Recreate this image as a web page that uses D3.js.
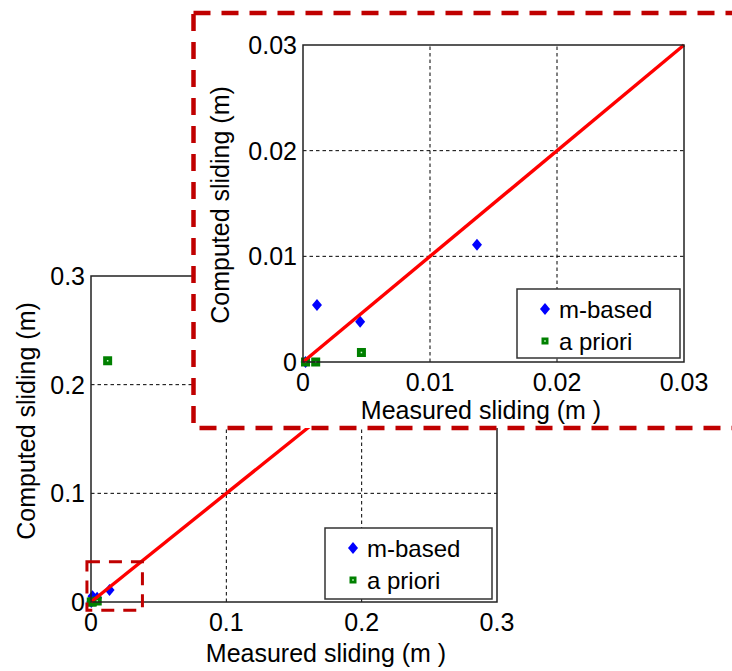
<!DOCTYPE html>
<html>
<head>
<meta charset="utf-8">
<script src="https://cdn.jsdelivr.net/npm/d3@7"></script>
<style>
  body { margin: 0; background: #fff; }
  svg text { font-family: "Liberation Sans", Arial, sans-serif; fill: #000; }
</style>
</head>
<body>
<div id="chart"></div>
<script>
// data (metres)
const mBasedX = [0.0002, 0.0011, 0.0045, 0.0137];
const mBasedY = [0.0000, 0.0054, 0.0038, 0.0111];
const aPrioriX = [0.0002, 0.0010, 0.0046, 0.0123];
const aPrioriY = [0.0000, 0.0000, 0.0009, 0.2220];

const mainTicks = [0, 0.1, 0.2, 0.3];
const mainTickLabels = ["0", "0.1", "0.2", "0.3"];
const insetTicks = [0, 0.01, 0.02, 0.03];
const insetTickLabels = ["0", "0.01", "0.02", "0.03"];

// zoom window marked on the main plot
const zoomBoxX = [-0.003, 0.038];
const zoomBoxY = [-0.0075, 0.037];

const legendNames = ["m-based", "a priori"];
const xTitle = "Measured sliding (m )";
const yTitle = "Computed sliding (m)";

const width = 732, height = 671;
const darkRed = "#c00000";

let svg = d3.select("#chart").append("svg")
    .attr("width", width)
    .attr("height", height);

let mBased = mBasedX.map((x, i) => ({x: x, y: mBasedY[i]}));
let aPriori = aPrioriX.map((x, i) => ({x: x, y: aPrioriY[i]}));

function diamond(g, data, x, y) {
    g.selectAll("path.dia")
        .data(data)
        .enter()
        .append("path")
        .attr("class", "dia")
        .attr("d", d => {
            let cx = x(d.x), cy = y(d.y);
            return `M${cx},${cy - 6}L${cx + 5},${cy}L${cx},${cy + 6}L${cx - 5},${cy}Z`;
        })
        .attr("fill", "#0000ff");
}

function square(g, data, x, y) {
    let s = g.selectAll("g.sq")
        .data(data)
        .enter()
        .append("g")
        .attr("class", "sq")
        .attr("transform", d => `translate(${x(d.x)},${y(d.y)})`);
    s.append("rect").attr("x", -4.5).attr("y", -4.5).attr("width", 9).attr("height", 9).attr("fill", "#008000");
    s.append("rect").attr("x", -0.75).attr("y", -0.75).attr("width", 1.5).attr("height", 1.5).attr("fill", "#cfc");
}

// draws one axes: grid, markers, 1:1 line, box, ticks, labels, legend
function drawPanel(g, opt) {
    let x = opt.x, y = opt.y;
    let [x0, x1] = x.range();
    let [y0, y1] = y.range();
    let ticks = opt.ticks;

    // dotted grid
    g.selectAll("line.gx")
        .data(ticks.slice(1, -1))
        .enter().append("line")
        .attr("x1", d => x(d)).attr("x2", d => x(d))
        .attr("y1", y0).attr("y2", y1)
        .attr("stroke", "#000").attr("stroke-width", 1)
        .attr("stroke-dasharray", "3.5,3");
    g.selectAll("line.gy")
        .data(ticks.slice(1, -1))
        .enter().append("line")
        .attr("y1", d => y(d)).attr("y2", d => y(d))
        .attr("x1", x0).attr("x2", x1)
        .attr("stroke", "#000").attr("stroke-width", 1)
        .attr("stroke-dasharray", "3.5,3");

    diamond(g, mBased, x, y);
    square(g, aPriori, x, y);

    // 1:1 line
    let dom = x.domain();
    g.append("line")
        .attr("x1", x(dom[0])).attr("y1", y(dom[0]))
        .attr("x2", x(dom[1])).attr("y2", y(dom[1]))
        .attr("stroke", "#ff0000").attr("stroke-width", 3.4);

    // box
    g.append("rect")
        .attr("x", x0).attr("y", y1)
        .attr("width", x1 - x0).attr("height", y0 - y1)
        .attr("fill", "none").attr("stroke", "#222").attr("stroke-width", 1.5);

    // tick labels
    g.selectAll("text.xt")
        .data(ticks)
        .enter().append("text")
        .attr("x", d => x(d))
        .attr("y", y0 + opt.xTickGap)
        .attr("text-anchor", "middle")
        .style("font-size", "25px")
        .text((d, i) => opt.labels[i]);
    g.selectAll("text.yt")
        .data(ticks)
        .enter().append("text")
        .attr("x", x0 - 6)
        .attr("y", d => y(d) + 9)
        .attr("text-anchor", "end")
        .style("font-size", "25px")
        .text((d, i) => opt.labels[i]);

    // axis titles
    g.append("text")
        .attr("x", opt.xTitlePos[0]).attr("y", opt.xTitlePos[1])
        .attr("text-anchor", "middle")
        .style("font-size", "25px")
        .text(xTitle);
    g.append("text")
        .attr("transform", `translate(${opt.yTitlePos[0]},${opt.yTitlePos[1]}) rotate(-90)`)
        .attr("text-anchor", "middle")
        .style("font-size", "25px")
        .text(yTitle);

    // legend
    let lg = g.append("g").attr("transform", `translate(${opt.legend[0]},${opt.legend[1]})`);
    lg.append("rect")
        .attr("width", opt.legend[2]).attr("height", opt.legend[3])
        .attr("fill", "#fff").attr("stroke", "#333").attr("stroke-width", 1.5);
    let ly = d3.scalePoint().domain(legendNames).range([20, 52]);
    lg.append("path")
        .attr("d", `M28,${ly(legendNames[0]) - 6}L33,${ly(legendNames[0])}L28,${ly(legendNames[0]) + 6}L23,${ly(legendNames[0])}Z`)
        .attr("fill", "#0000ff");
    lg.append("rect")
        .attr("x", 24.5).attr("y", ly(legendNames[1]) - 3.5)
        .attr("width", 7).attr("height", 7).attr("fill", "#008000");
    lg.append("rect")
        .attr("x", 27.25).attr("y", ly(legendNames[1]) - 0.75)
        .attr("width", 1.5).attr("height", 1.5).attr("fill", "#cfc");
    lg.selectAll("text")
        .data(legendNames)
        .enter().append("text")
        .attr("x", 42)
        .attr("y", d => ly(d) + 9)
        .style("font-size", "24px")
        .text(d => d);
}

// ---- main axes ----
let xMain = d3.scaleLinear().domain([0, 0.3]).range([91, 497]);
let yMain = d3.scaleLinear().domain([0, 0.3]).range([602, 276]);
let gMain = svg.append("g");
drawPanel(gMain, {
    x: xMain, y: yMain, ticks: mainTicks, labels: mainTickLabels,
    xTickGap: 29,
    xTitlePos: [326, 662],
    yTitlePos: [35, 421],
    legend: [325, 528, 167, 71]
});

// dashed zoom window on the main axes
gMain.append("rect")
    .attr("x", xMain(zoomBoxX[0]))
    .attr("y", yMain(zoomBoxY[1]))
    .attr("width", xMain(zoomBoxX[1]) - xMain(zoomBoxX[0]))
    .attr("height", yMain(zoomBoxY[0]) - yMain(zoomBoxY[1]))
    .attr("fill", "none")
    .attr("stroke", darkRed).attr("stroke-width", 3)
    .attr("stroke-dasharray", "13,9");

// ---- inset ----
let gInset = svg.append("g");
gInset.append("rect")
    .attr("x", 193.5).attr("y", 13)
    .attr("width", 560).attr("height", 415)
    .attr("fill", "#fff")
    .attr("stroke", darkRed).attr("stroke-width", 4.5)
    .attr("stroke-dasharray", "17,11");

let xIn = d3.scaleLinear().domain([0, 0.03]).range([303, 684]);
let yIn = d3.scaleLinear().domain([0, 0.03]).range([362, 45]);
drawPanel(gInset, {
    x: xIn, y: yIn, ticks: insetTicks, labels: insetTickLabels,
    xTickGap: 29,
    xTitlePos: [481, 419],
    yTitlePos: [229, 205],
    legend: [517, 289, 163, 69]
});
</script>
</body>
</html>
